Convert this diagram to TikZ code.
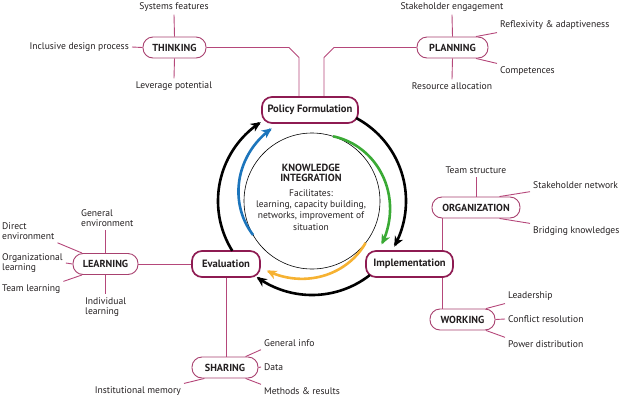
\documentclass[tikz,border=0pt]{standalone}
\usepackage{fontspec}
\setmainfont{PT Sans}
\usetikzlibrary{arrows.meta,calc}
\definecolor{maroonB}{HTML}{8E1B52}
\definecolor{pinkB}{HTML}{A8416F}
\definecolor{pinkL}{HTML}{B5477A}
\definecolor{cblue}{HTML}{1C75BC}
\definecolor{cgreen}{HTML}{3AAA35}
\definecolor{cyellow}{HTML}{F6B232}
\definecolor{ctext}{HTML}{231F20}
\begin{document}
\begin{tikzpicture}[x=1pt,y=-1pt,
  every node/.style={text=ctext},
  pill/.style={draw=pinkB, line width=0.9pt, rounded corners=10pt, minimum height=21pt,
    inner sep=2pt, font=\bfseries\fontsize{10.2}{11}\selectfont, fill=white},
  mainbox/.style={draw=maroonB, line width=1.7pt, rounded corners=10pt, minimum height=26pt,
    inner sep=2pt, font=\bfseries\fontsize{10.6}{12}\selectfont, fill=white},
  leaf/.style={inner sep=3pt, font=\fontsize{9.6}{10.3}\selectfont, align=left},
  conn/.style={draw=pinkL, line width=0.9pt},
  cyc/.style={line width=2.6pt, -{Stealth[length=10pt,width=9pt,inset=3pt]}}
]
\useasboundingbox (0,0) rectangle (622,400);
% ---- main nodes
\node[mainbox, minimum width=96pt] (policy) at (310,110) {Policy Formulation};
\node[mainbox, minimum width=87pt] (impl) at (409.5,264) {Implementation};
\node[mainbox, minimum width=68pt] (eval) at (226,264) {Evaluation};
% ---- sub nodes
\node[pill, minimum width=63pt] (think) at (174.5,47.5) {THINKING};
\node[pill, minimum width=71pt] (plan) at (452.5,47.5) {PLANNING};
\node[pill, minimum width=88pt] (org) at (476,207.5) {ORGANIZATION};
\node[pill, minimum width=65pt] (work) at (462.5,319.5) {WORKING};
\node[pill, minimum width=65pt] (learn) at (105.5,264) {LEARNING};
\node[pill, minimum width=66pt] (share) at (225,367.5) {SHARING};
% ---- leaves
\node[leaf] (sysf) at (174,7) {Systems features};
\node[leaf, anchor=east] (incl) at (132,47) {Inclusive design process};
\node[leaf] (lever) at (174,86) {Leverage potential};
\node[leaf] (stake) at (452,7) {Stakeholder engagement};
\node[leaf, anchor=west] (refl) at (497,25) {Reflexivity \& adaptiveness};
\node[leaf, anchor=west] (comp) at (497,71) {Competences};
\node[leaf] (resa) at (452,86) {Resource allocation};
\node[leaf] (team) at (476,170) {Team structure};
\node[leaf, anchor=west] (stnet) at (530,185) {Stakeholder network};
\node[leaf, anchor=west] (bridge) at (530,231) {Bridging knowledges};
\node[leaf, anchor=west] (lead) at (505,296) {Leadership};
\node[leaf, anchor=west] (confl) at (505,319) {Conflict resolution};
\node[leaf, anchor=west] (power) at (505,344) {Power distribution};
\node[leaf, anchor=west] (genenv) at (78,218) {General\\environment};
\node[leaf, anchor=west] (direnv) at (-1,231) {Direct\\environment};
\node[leaf, anchor=west] (orgl) at (-1,263) {Organizational\\learning};
\node[leaf, anchor=west] (teaml) at (-1,289) {Team learning};
\node[leaf, anchor=west] (indiv) at (82,307) {Individual\\learning};
\node[leaf, anchor=west] (geninfo) at (261,343) {General info};
\node[leaf, anchor=west] (data) at (261,367) {Data};
\node[leaf, anchor=west] (meth) at (261,391) {Methods \& results};
\node[leaf, anchor=east] (inst) at (184,391) {Institutional memory};
% ---- centre
\coordinate (cc) at (312,201);
\draw[line width=0.6pt] (cc) circle[radius=68];
\node[align=center, font=\fontsize{9.5}{11.3}\selectfont] (ki) at (311,197)
  {{\bfseries\fontsize{10.4}{11}\selectfont KNOWLEDGE}\\[-0.5pt]{\bfseries\fontsize{10.4}{11}\selectfont INTEGRATION}\\[3pt]Facilitates:\\learning, capacity building,\\networks, improvement of\\situation};
% ---- connectors
\coordinate (tx) at (299,0);
\coordinate (px) at (324,0);
\coordinate (ox) at (442,0);
\draw[conn] (think.east) -- (289,47.5) -- (299,57.5) -- (tx |- policy.north);
\draw[conn] (plan.west) -- (334,47.5) -- (324,57.5) -- (px |- policy.north);
\draw[conn] (think.north) -- (sysf.south);
\draw[conn] (incl.east) -- (think.west);
\draw[conn] (think.south) -- (lever.north);
\draw[conn] (plan.north) -- (stake.south);
\draw[conn] (plan.south) -- (resa.north);
\draw[conn] (plan.25) -- (refl.south west);
\draw[conn] (plan.-25) -- (comp.north west);
\draw[conn] (org.north) -- (team.south);
\draw[conn] (org.25) -- (stnet.south west);
\draw[conn] (org.-25) -- (bridge.north west);
\draw[conn] (ox |- org.south) -- (ox |- impl.north);
\draw[conn] (ox |- impl.south) -- (ox |- work.north);
\draw[conn] (work.25) -- (lead.south west);
\draw[conn] (work.east) -- (confl.west);
\draw[conn] (work.-25) -- (power.north west);
\draw[conn] (learn.east) -- (eval.west);
\draw[conn] (genenv.south -| learn.north) -- (learn.north);
\draw[conn] (learn.south) -- (learn.south |- indiv.north);
\draw[conn] (learn.155) -- (direnv.south east);
\draw[conn] (orgl.east) -- (learn.west);
\draw[conn] (learn.205) -- (teaml.north east);
\draw[conn] (eval.south) -- (eval.south |- share.north);
\draw[conn] (share.28) -- (geninfo.south west);
\draw[conn] (share.east) -- (data.west);
\draw[conn] (share.-28) -- (meth.north west);
\draw[conn] (share.208) -- (inst.north east);
% ---- cycle arrows (black)
\draw[cyc] plot[domain=62:-29, samples=60, smooth] ({312+94*cos(\x)},{201-94*sin(\x)});
\draw[cyc] plot[domain=212:123, samples=60, smooth] ({312+94*cos(\x)},{201-94*sin(\x)});
\draw[cyc] plot[domain=-52:-126, samples=60, smooth] ({312+94*cos(\x)},{201-94*sin(\x)});
% ---- coloured spirals
\draw[cyc, cblue] plot[domain=210:119, samples=60, smooth] ({312+(68+15*(210-\x)/91)*cos(\x)},{201-(68+15*(210-\x)/91)*sin(\x)});
\draw[cyc, cgreen] plot[domain=72:-32, samples=60, smooth] ({312+(68+14*(72-\x)/104)*cos(\x)},{201-(68+14*(72-\x)/104)*sin(\x)});
\draw[cyc, cyellow] plot[domain=-38:-123, samples=60, smooth] ({312+(68+15*(-38-\x)/85)*cos(\x)},{201-(68+15*(-38-\x)/85)*sin(\x)});
\end{tikzpicture}
\end{document}
